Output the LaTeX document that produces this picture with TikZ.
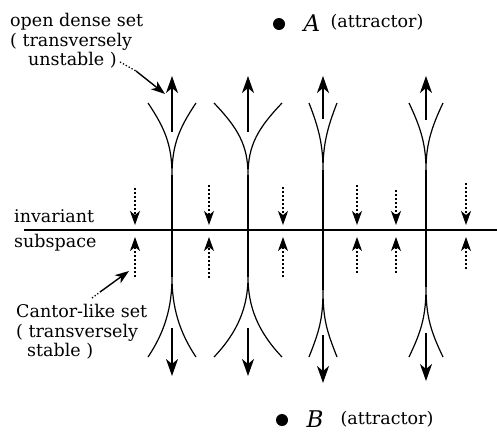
\documentclass[tikz,border=0pt]{standalone}
\usepackage{fontspec}
\setmainfont{DejaVu Serif}
\usepackage{tikz}
\usetikzlibrary{positioning, calc, arrows.meta}

\begin{document}
\begin{tikzpicture}[
      x=1pt, y=-1pt,
      font=\fontsize{17.5}{19.5}\selectfont,
      fiber/.style={line width=2pt, draw=black},
      branch/.style={line width=1.2pt, draw=black},
      flowarrow/.style={-{Stealth[length=17pt, width=12pt, inset=5pt]}, line width=1.5pt},
      transarrow/.style={-{Stealth[length=14pt, width=10pt, inset=4pt]}, line width=1.2pt, dash pattern=on 2pt off 2pt},
      leader/.style={-{Stealth[length=14pt, width=10pt, inset=4pt]}, line width=1.4pt},
      caption/.style={align=left, inner sep=0pt, anchor=north west},
      attractor/.style={circle, fill=black, minimum size=12pt, inner sep=0pt},
      attrlabel/.style={inner sep=0pt, font=\fontsize{17.5}{19}\selectfont},
      pointname/.style={inner sep=0pt, font=\fontsize{23}{23}\selectfont\itshape}
    ]
      \useasboundingbox (0,0) rectangle (497,432);

      % invariant subspace
      \coordinate (axisL) at (24,230);
      \coordinate (axisR) at (497,230);
      \draw[line width=1.5pt] (axisL) -- (axisR);

      % unstable fibres: x / upper cusp / lower cusp / half width / arrow ends
      \foreach \fx/\ct/\cb/\hw/\ua/\da in {172/175/277/24/132/328, 248/175/277/34/132/328,
                                          323/170/290/14/119/335, 426/170/287/17/120/333}{
        \draw[fiber] (\fx,\ct) -- (\fx,\cb);
        \draw[branch] (\fx-\hw,103) .. controls (\fx-0.3*\hw,128) and (\fx,145) .. (\fx,\ct)
                      .. controls (\fx,145) and (\fx+0.3*\hw,128) .. (\fx+\hw,103);
        \draw[branch] (\fx-\hw,357) .. controls (\fx-0.3*\hw,332) and (\fx,\cb+30) .. (\fx,\cb)
                      .. controls (\fx,\cb+30) and (\fx+0.3*\hw,332) .. (\fx+\hw,357);
        \draw[flowarrow] (\fx,\ua) -- (\fx,76);
        \draw[flowarrow] (\fx,\da) -- (\fx,\da+48);
      }

      % transverse (dashed) arrows
      \foreach \tx/\td/\tu in {135/188/277, 209/185/278, 283/187/277,
                               357/185/273, 396/190/273, 466/183/269}{
        \draw[transarrow] (\tx,\td) -- (\tx,225);
        \draw[transarrow] (\tx,\tu) -- (\tx,237);
      }

      % labels
      \node[caption] (opendense) at (10,13) {open dense set\\( transversely\\\hspace*{18pt}unstable )};
      \node[caption, anchor=west] (invariant) at (14,216) {invariant};
      \node[caption, anchor=west] (subspace) at (14,243) {subspace};
      \node[caption] (cantor) at (16,304) {Cantor-like set\\( transversely\\\hspace*{11pt}stable )};

      % leaders
      \coordinate (odStart) at (120,62);
      \coordinate (odMid) at (136,71);
      \coordinate (odTip) at (165,94);
      \draw[line width=1.3pt, dotted] (odStart) -- (odMid);
      \draw[leader] (odMid) -- (odTip);
      \coordinate (clStart) at (92,298);
      \coordinate (clMid) at (100,292);
      \coordinate (clTip) at (129,271);
      \draw[line width=1.3pt, dotted] (clStart) -- (clMid);
      \draw[leader] (clMid) -- (clTip);

      % attractors
      \node[attractor] (dotA) at (279,24) {};
      \node[pointname] (A) at (312,23) {A};
      \node[attrlabel] (attrA) at (377,22) {(attractor)};
      \node[attractor] (dotB) at (282,420) {};
      \node[pointname] (B) at (315,419) {B};
      \node[attrlabel] (attrB) at (387,419) {(attractor)};
\end{tikzpicture}
\end{document}
